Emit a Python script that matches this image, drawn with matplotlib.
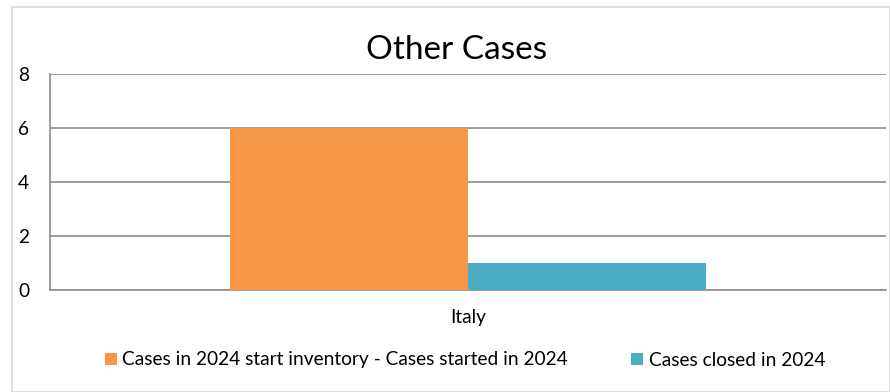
import matplotlib
matplotlib.use("Agg")
import matplotlib.pyplot as plt
from matplotlib.patches import Rectangle

categories = ["Italy"]
series_names = ["Cases in 2024 start inventory - Cases started in 2024", "Cases closed in 2024"]
values_start = [6]
values_closed = [1]
yticks = [0, 2, 4, 6, 8]
title = "Other Cases"

plt.rcParams['font.family'] = ['Lato', 'DejaVu Sans']

W, H = 890, 392
fig = plt.figure(figsize=(W/100, H/100), dpi=100)
# outer border
fig.patches.append(Rectangle((12/W, 0), (W-12)/W, (H-7)/H, transform=fig.transFigure,
                             fill=False, edgecolor='#d9d9d9', linewidth=1.2))

left, right, top, bottom = 50, 886, 74, 290
ax = fig.add_axes([left/W, 1-bottom/H, (right-left)/W, (bottom-top)/H])

bw = 0.285
x = list(range(len(categories)))
ax.bar([i - bw/2 for i in x], values_start, width=bw, color='#F79646', label=series_names[0], zorder=3)
ax.bar([i + bw/2 for i in x], values_closed, width=bw, color='#4BACC6', label=series_names[1], zorder=3)

fs = 13.8
ax.set_xlim(-0.5, 0.5)
ax.set_ylim(0, 8)
ax.set_yticks(yticks)
ax.set_yticklabels([str(t) for t in yticks], fontsize=fs)
ax.set_xticks(x)
ax.set_xticklabels(categories, fontsize=fs)
ax.tick_params(axis='both', length=0, colors='black')
ax.tick_params(axis='y', pad=15)
ax.tick_params(axis='x', pad=14)
ax.yaxis.grid(True, color='#8c8c8c', linewidth=1.2, zorder=0)
for s in ['top', 'right']:
    ax.spines[s].set_visible(False)
ax.spines['left'].set_color('#8c8c8c')
ax.spines['bottom'].set_color('#8c8c8c')
ax.spines['left'].set_linewidth(1.2)
ax.spines['bottom'].set_linewidth(1.2)

fig.text(457/W, 1-59/H, title, ha='center', va='baseline', fontsize=24)

leg = fig.legend(loc='center', bbox_to_anchor=(465/W, 1-360/H), ncol=2, frameon=False,
                 fontsize=fs, handlelength=0.625, handleheight=0.625, handletextpad=0.31,
                 columnspacing=3.28)

fig.savefig("out.png", dpi=100)
